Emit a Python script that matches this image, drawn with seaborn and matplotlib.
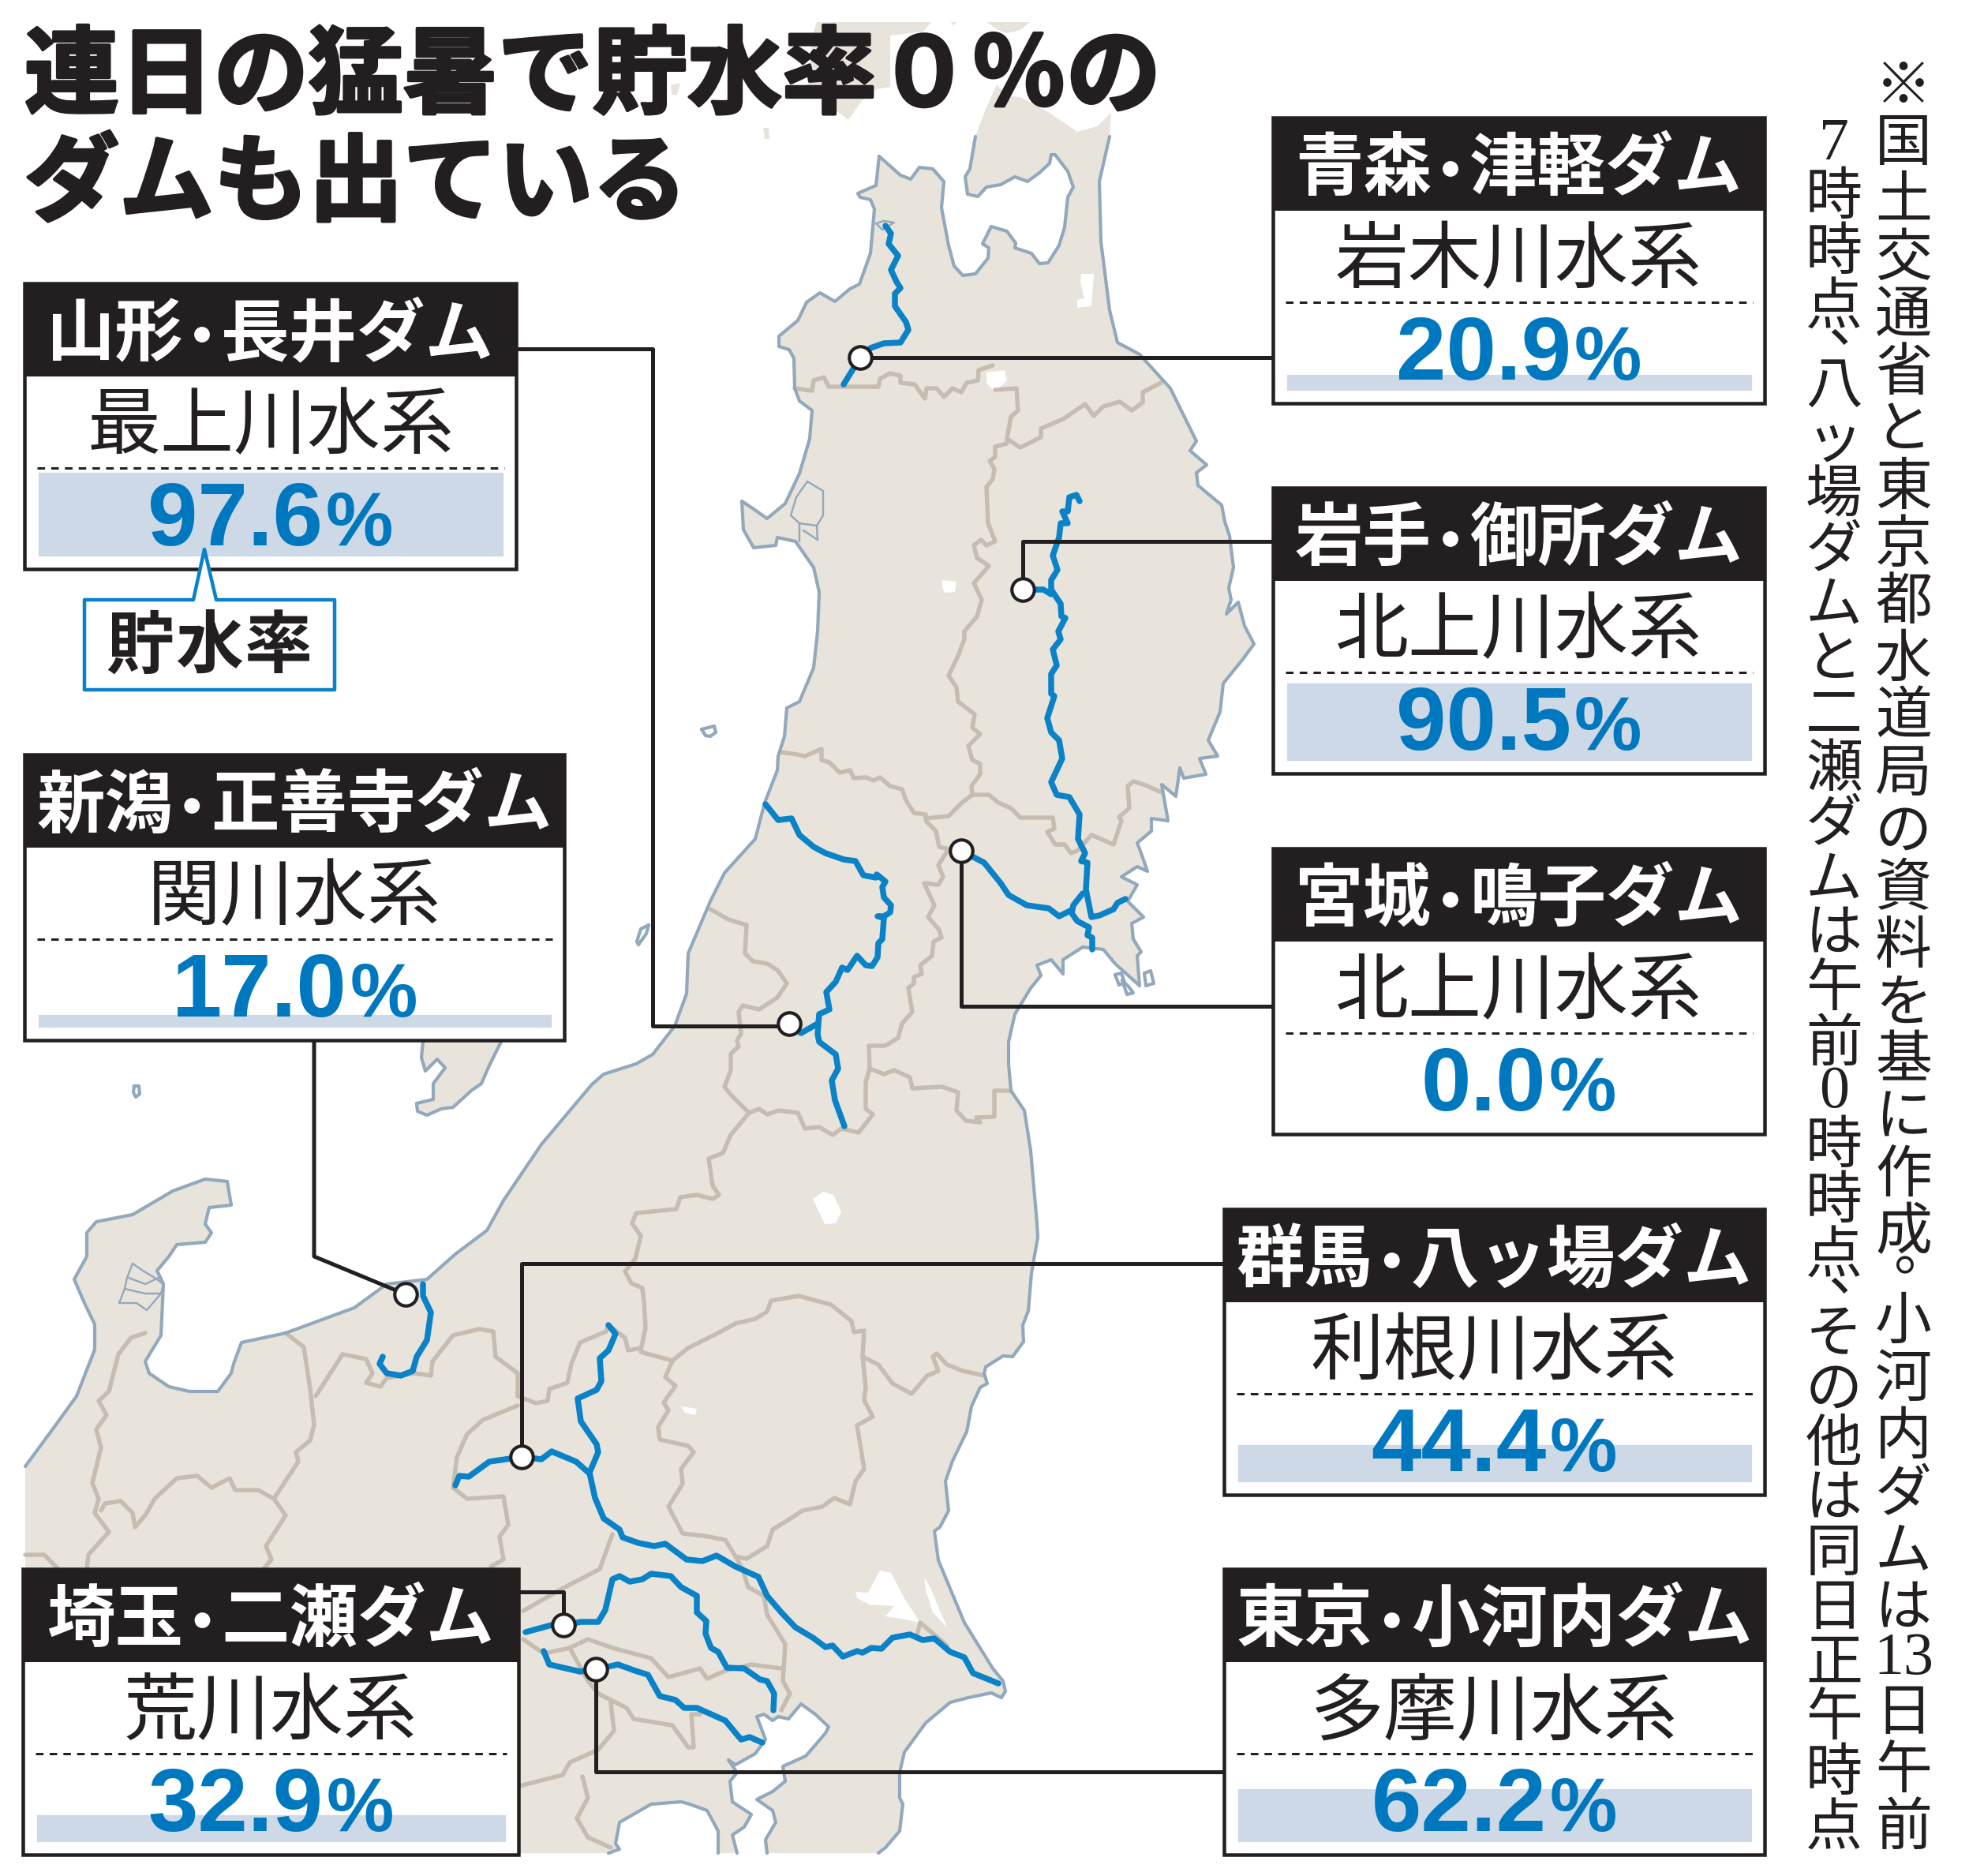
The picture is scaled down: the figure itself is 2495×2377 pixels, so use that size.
import numpy as np
import pandas as pd
import seaborn as sns
import matplotlib.pyplot as plt
import matplotlib.patheffects as pe
from matplotlib.patches import Rectangle, Polygon

sns.set_theme(style="white")
JP = ["Noto Sans CJK JP", "DejaVu Sans"]
plt.rcParams["font.family"] = JP

W, H = 2495, 2377
DPI = 200
DARK = "#231f20"
BLUE = "#0a82c8"
NUM_BLUE = "#0078bf"
LAND = "#e8e4dc"
COAST = "#92a9bd"
BORDER = "#c6bdb0"
FILL = "#cdd9e6"

# dam data

dams = ["青森・津軽ダム", "岩手・御所ダム", "宮城・鳴子ダム", "山形・長井ダム",
        "新潟・正善寺ダム", "群馬・八ッ場ダム", "埼玉・二瀬ダム", "東京・小河内ダム"]
rivers = ["岩木川水系", "北上川水系", "北上川水系", "最上川水系",
          "関川水系", "利根川水系", "荒川水系", "多摩川水系"]
storage = [20.9, 90.5, 0.0, 97.6, 17.0, 44.4, 32.9, 62.2]
card_x0 = [1613, 1613, 1613, 31, 31, 1551, 29, 1551]
card_x1 = [2236, 2236, 2236, 654, 715, 2236, 657, 2236]
card_y0 = [149, 618, 1075, 359, 956, 1532, 1988, 1988]
dam_x = [1090, 1296, 1218, 1000, 514, 661, 714, 755]
dam_y = [453, 747, 1078, 1297, 1640, 1846, 2059, 2115]

title_lines = ["連日の猛暑で貯水率０％の", "ダムも出ている"]
note_col1 = ["※", "国", "土", "交", "通", "省", "と", "東", "京", "都", "水", "道", "局", "の", "資", "料",
             "を", "基", "に", "作", "成", "。", "小", "河", "内", "ダ", "ム", "は", "13", "日", "午", "前"]
note_col2 = ["7", "時", "時", "点", "、", "八", "ッ", "場", "ダ", "ム", "と", "二", "瀬", "ダ", "ム", "は", "午",
             "前", "0", "時", "時", "点", "、", "そ", "の", "他", "は", "同", "日", "正", "午", "時", "点"]

# map, image pixels

east_coast = [(1406, 173), (1393, 230), (1395, 306), (1406, 393), (1416, 434), (1444, 449), (1483, 492), (1516, 559),
              (1508, 571), (1529, 589), (1516, 599), (1518, 615), (1548, 640), (1552, 661), (1558, 679), (1563, 719),
              (1557, 745), (1560, 760), (1554, 778), (1569, 763), (1577, 793), (1589, 816), (1575, 835), (1550, 866),
              (1546, 902), (1531, 938), (1543, 958), (1520, 961), (1528, 981), (1500, 986), (1495, 973), (1490, 1009),
              (1472, 994), (1480, 1040), (1459, 1037), (1459, 1053), (1441, 1068), (1446, 1081), (1454, 1104),
              (1441, 1098), (1421, 1111), (1441, 1121), (1429, 1142), (1449, 1162), (1434, 1170), (1436, 1190),
              (1446, 1206), (1441, 1211), (1444, 1249), (1413, 1221), (1398, 1203), (1372, 1200), (1347, 1216),
              (1347, 1234), (1332, 1216), (1314, 1223), (1319, 1236), (1306, 1252), (1286, 1285), (1278, 1320),
              (1278, 1348), (1281, 1382), (1298, 1407), (1306, 1458), (1314, 1550), (1315, 1568), (1307, 1613),
              (1303, 1661), (1296, 1679), (1297, 1700), (1283, 1719), (1271, 1718), (1249, 1732), (1247, 1740),
              (1251, 1753), (1242, 1758), (1231, 1782), (1225, 1814), (1207, 1851), (1198, 1877), (1202, 1914),
              (1191, 1935), (1184, 1940), (1189, 1977), (1222, 2056), (1258, 2114), (1271, 2130), (1274, 2143),
              (1269, 2151), (1256, 2145), (1227, 2151), (1204, 2157), (1173, 2183), (1146, 2220), (1140, 2246),
              (1140, 2278), (1144, 2286), (1140, 2320), (1122, 2341), (1113, 2348)]
bay_coast = [(972, 2348), (970, 2331), (983, 2309), (979, 2294), (959, 2280), (979, 2270), (995, 2257), (992, 2238),
             (1021, 2225), (1046, 2196), (1050, 2188), (1033, 2172), (1015, 2159), (999, 2178), (986, 2175), (979, 2180),
             (968, 2172), (959, 2175), (970, 2204), (957, 2222), (932, 2236), (923, 2230), (934, 2246), (925, 2257),
             (928, 2283), (952, 2299), (943, 2315), (928, 2325), (934, 2348)]
sagami_coast = [(910, 2348), (910, 2320), (896, 2294), (874, 2286), (863, 2283), (825, 2286), (785, 2309), (780, 2336),
                (785, 2343), (771, 2348)]
west_coast = [(1114, 198), (1110, 235), (1087, 245), (1090, 250), (1103, 253), (1108, 265), (1103, 321), (1089, 360),
              (1077, 366), (1058, 382), (1039, 371), (1022, 383), (1011, 406), (987, 426), (987, 439), (1000, 443),
              (1006, 454), (1007, 492), (1013, 508), (1029, 520), (1026, 556), (1013, 600), (995, 638), (972, 657),
              (955, 645), (940, 635), (942, 671), (955, 694), (983, 691), (985, 681), (1008, 686), (1031, 719),
              (1038, 750), (1036, 800), (1031, 846), (1013, 889), (997, 897), (994, 933), (986, 958), (985, 976),
              (969, 1017), (957, 1063), (918, 1106), (900, 1142), (872, 1208), (870, 1259), (855, 1300), (827, 1336),
              (806, 1348), (765, 1361), (750, 1374), (686, 1450), (638, 1521), (617, 1559), (577, 1589), (541, 1621),
              (490, 1627), (449, 1657), (362, 1689), (306, 1701), (296, 1728), (293, 1740), (276, 1763), (240, 1763),
              (214, 1757), (189, 1740), (184, 1725), (204, 1692), (207, 1627), (199, 1610), (214, 1592), (224, 1577),
              (260, 1574), (268, 1562), (260, 1551), (265, 1530), (293, 1527), (288, 1497), (260, 1494), (219, 1509),
              (168, 1539), (122, 1548), (110, 1562), (110, 1592), (94, 1621), (107, 1651), (120, 1678), (120, 1710),
              (97, 1769), (71, 1805), (32, 1858)]
mutsu_coast = [(1114, 198), (1141, 222), (1154, 227), (1165, 212), (1182, 214), (1196, 230), (1193, 263), (1202, 311),
               (1209, 337), (1220, 349), (1236, 347), (1252, 327), (1253, 314), (1245, 309), (1256, 287), (1276, 293),
               (1287, 308), (1286, 314), (1307, 321), (1317, 334), (1328, 333), (1342, 311), (1349, 288), (1353, 250),
               (1360, 237), (1353, 217), (1337, 196), (1332, 196), (1330, 207), (1317, 219), (1302, 230), (1286, 224),
               (1268, 234), (1250, 237), (1239, 249), (1226, 246), (1223, 224), (1229, 214), (1236, 173)]
shimokita_top = [(1247, 143), (1263, 107), (1277, 122), (1293, 123), (1330, 143), (1365, 167), (1390, 160), (1408, 143)]
hokkaido_a = [(1035, 28), (1180, 28), (1170, 40), (1128, 45), (1128, 110), (1110, 113), (1092, 128), (1075, 152), (1063, 143),
              (1023, 110), (1030, 43)]
hokkaido_b = [(1250, 28), (1305, 28), (1293, 38), (1275, 42), (1265, 38)]
hokkaido_c = [(1205, 28), (1212, 28), (1208, 33)]
islet_a = [(967, 162), (974, 162), (975, 176), (969, 176)]
islet_b = [(850, 108), (862, 105), (858, 120), (851, 120)]
sado = [(536, 1300), (536, 1320), (534, 1340), (539, 1357), (554, 1342), (564, 1353), (549, 1373), (549, 1393), (528, 1398),
        (529, 1408), (541, 1413), (559, 1405), (574, 1403), (597, 1382), (610, 1373), (620, 1350), (635, 1320), (640, 1300)]
awashima = [(822, 1172), (819, 1183), (809, 1197), (807, 1193), (812, 1177), (822, 1172)]
tobishima = [(889, 924), (905, 920), (907, 928), (900, 933), (894, 932), (889, 924)]
small_isle = [(170, 1376), (176, 1376), (177, 1386), (172, 1390), (169, 1384), (170, 1376)]
matsu_a = [(1413, 1235), (1421, 1233), (1425, 1245), (1418, 1248), (1413, 1235)]
matsu_b = [(1422, 1242), (1430, 1250), (1436, 1258), (1428, 1260), (1422, 1242)]
matsu_c = [(1450, 1233), (1458, 1230), (1462, 1246), (1452, 1249), (1450, 1233)]
hachirogata = [(1023, 610), (1043, 622), (1043, 653), (1035, 666), (1013, 663), (1002, 653), (1009, 630), (1023, 610)]
hachi_a = [(1013, 663), (1013, 686)]
hachi_b = [(1035, 666), (1036, 684), (1018, 672)]
jusan = [(1110, 283), (1120, 280), (1133, 282), (1118, 291), (1110, 283)]
nanao = [(168, 1601), (181, 1610), (196, 1619), (207, 1627), (204, 1639), (186, 1660), (173, 1651), (151, 1651),
         (158, 1633), (161, 1619), (168, 1601)]
nanao_a = [(158, 1633), (184, 1639), (204, 1639)]
nanao_b = [(163, 1619), (184, 1627), (201, 1619)]

lake_towada = [(1250, 472), (1273, 469), (1276, 482), (1261, 497), (1250, 485)]
lake_ogawara = [(1370, 347), (1386, 347), (1383, 388), (1365, 390), (1365, 380), (1374, 378), (1369, 357)]
lake_tazawa = [(1194, 735), (1212, 737), (1210, 750), (1197, 751), (1194, 745)]
lake_inawashiro = [(1030, 1519), (1043, 1510), (1056, 1514), (1066, 1535), (1059, 1550), (1045, 1551), (1036, 1532)]
lake_chuzenji = [(863, 1782), (883, 1785), (881, 1793), (868, 1790)]
lake_kasumi = [(1084, 2017), (1100, 2018), (1115, 1990), (1129, 1993), (1146, 2025), (1166, 2056), (1142, 2051),
               (1122, 2048), (1133, 2035), (1102, 2033), (1086, 2025)]
lake_kita = [(1171, 1998), (1180, 2014), (1200, 2062), (1182, 2043), (1173, 2014)]

aomori_akita = [(1007, 492), (1029, 495), (1031, 482), (1044, 478), (1050, 490), (1113, 490), (1115, 480), (1128, 473),
                (1141, 476), (1141, 485), (1159, 487), (1172, 505), (1174, 492), (1187, 492), (1196, 503), (1207, 492),
                (1218, 497), (1225, 485), (1239, 482), (1240, 469), (1258, 463)]
aomori_akita2 = [(1261, 494), (1288, 492), (1290, 520), (1281, 528), (1276, 556)]
aomori_iwate = [(1276, 556), (1293, 567), (1319, 554), (1319, 543), (1347, 531), (1375, 512), (1386, 527), (1398, 515),
                (1419, 509), (1434, 520), (1448, 510), (1448, 497), (1471, 485)]
akita_iwate = [(1276, 556), (1276, 562), (1261, 566), (1261, 579), (1254, 584), (1260, 594), (1258, 607), (1250, 617),
               (1252, 663), (1261, 686), (1250, 691), (1243, 684), (1234, 691), (1238, 707), (1253, 717), (1234, 739),
               (1244, 760), (1238, 781), (1222, 800), (1222, 810), (1214, 831), (1202, 856), (1212, 871), (1214, 889),
               (1235, 905), (1232, 922), (1242, 930), (1227, 945), (1232, 963), (1242, 968), (1242, 981), (1231, 996),
               (1232, 1007)]
iwate_miyagi = [(1232, 1007), (1253, 1007), (1265, 1017), (1281, 1024), (1293, 1036), (1334, 1036), (1336, 1050),
                (1327, 1054), (1334, 1065), (1337, 1070), (1349, 1070), (1357, 1081), (1365, 1078), (1383, 1058),
                (1411, 1070), (1421, 1040), (1418, 1035), (1431, 1024), (1429, 996), (1436, 990), (1449, 994), (1472, 1004)]
akita_yamagata = [(990, 953), (1010, 956), (1020, 958), (1041, 949), (1041, 963), (1051, 966), (1064, 979), (1077, 976),
                  (1082, 986), (1097, 985), (1107, 989), (1115, 985), (1128, 996), (1143, 1000), (1148, 1014),
                  (1158, 1030), (1173, 1032), (1173, 1037), (1202, 1034), (1219, 1017), (1232, 1007)]
yamagata_miyagi = [(1173, 1040), (1186, 1053), (1190, 1073), (1202, 1076), (1189, 1096), (1195, 1111), (1189, 1121),
                   (1171, 1119), (1184, 1147), (1176, 1162), (1190, 1178), (1193, 1188), (1183, 1193), (1181, 1211),
                   (1166, 1223), (1168, 1234), (1158, 1238), (1158, 1246), (1151, 1252), (1156, 1282), (1143, 1297),
                   (1138, 1315), (1122, 1325), (1101, 1325), (1102, 1354)]
miyagi_fukushima = [(1102, 1354), (1120, 1361), (1133, 1356), (1153, 1365), (1156, 1379), (1194, 1377), (1214, 1384),
                    (1212, 1407), (1224, 1420), (1242, 1422), (1237, 1416), (1260, 1415), (1260, 1382), (1281, 1382)]
yamagata_fukushima = [(1102, 1354), (1097, 1371), (1097, 1405), (1106, 1412), (1088, 1435), (1066, 1430), (1055, 1438),
                      (1038, 1428), (1020, 1430), (1011, 1410), (987, 1407), (972, 1412), (962, 1405), (949, 1410)]
yamagata_niigata = [(900, 1152), (923, 1165), (946, 1172), (944, 1208), (954, 1218), (972, 1221), (985, 1229), (997, 1246),
                    (985, 1264), (962, 1279), (941, 1274), (936, 1282), (939, 1310), (934, 1318), (936, 1326), (926, 1335),
                    (926, 1356), (918, 1377), (926, 1387), (936, 1397), (949, 1410)]
fukushima_niigata = [(949, 1410), (926, 1438), (916, 1461), (898, 1468), (903, 1502), (911, 1514), (903, 1519), (883, 1514),
                     (862, 1517), (857, 1532), (827, 1535), (806, 1537), (801, 1550), (812, 1566), (805, 1595), (792, 1611),
                     (800, 1626), (814, 1632), (816, 1650), (818, 1682), (812, 1711)]
fukushima_tochigi = [(812, 1713), (852, 1724)]
tochigi_loop = [(852, 1724), (872, 1708), (908, 1690), (932, 1677), (957, 1671), (972, 1662), (977, 1648), (1012, 1642),
                (1053, 1653), (1079, 1674), (1082, 1688), (1095, 1686), (1093, 1719), (1097, 1758), (1095, 1774),
                (1106, 1795), (1086, 1806), (1095, 1861), (1084, 1877), (1077, 1906), (1057, 1898), (1042, 1909),
                (1017, 1914), (997, 1927), (979, 1938), (972, 1959), (946, 1975), (932, 1972), (919, 1951), (892, 1946),
                (865, 1943), (847, 1909), (865, 1880), (863, 1861), (879, 1840), (872, 1832), (836, 1824), (834, 1808),
                (847, 1787), (841, 1777), (856, 1756), (843, 1745), (852, 1724)]
fukushima_ibaraki = [(1093, 1719), (1113, 1729), (1131, 1753), (1155, 1766), (1175, 1743), (1189, 1737), (1182, 1719),
                     (1187, 1715), (1200, 1729), (1220, 1737), (1247, 1743)]
ibaraki_chiba = [(1162, 2072), (1166, 2056), (1200, 2085)]
ibaraki_south = [(932, 1972), (941, 1988), (948, 2011), (968, 2022), (972, 2046), (995, 2083), (992, 2130), (1001, 2146),
                 (990, 2167)]
gunma_saitama = [(776, 1944), (760, 1988), (714, 2012), (663, 2041)]
saitama_tokyo = [(663, 2077), (689, 2095), (722, 2088), (745, 2077), (776, 2088), (825, 2101), (847, 2125), (887, 2114),
                 (896, 2127), (919, 2117), (952, 2109), (990, 2114)]
tokyo_kanagawa = [(722, 2088), (745, 2130), (758, 2146), (794, 2164), (803, 2178), (852, 2186), (872, 2214), (879, 2214),
                  (876, 2172), (887, 2172)]
yamanashi_kanagawa = [(774, 2157), (778, 2193), (758, 2217), (722, 2233), (713, 2249), (658, 2263)]
kanagawa_shizuoka = [(738, 2251), (745, 2278), (731, 2304), (745, 2328), (774, 2341)]
toyama_nagano = [(362, 1689), (385, 1707), (393, 1760), (398, 1805), (393, 1825), (375, 1840), (378, 1852), (347, 1899),
                 (362, 1920), (337, 1959), (344, 1976), (334, 1988)]
ishikawa_toyama = [(184, 1689), (166, 1695), (150, 1716), (138, 1763), (125, 1775), (135, 1793), (122, 1811), (128, 1834),
                   (117, 1879), (125, 1899), (120, 1917), (138, 1941), (112, 1970), (110, 1988)]
toyama_gifu = [(128, 1914), (133, 1905), (153, 1902), (168, 1917), (171, 1935), (184, 1920), (196, 1899), (224, 1873),
               (250, 1870), (268, 1885), (291, 1873), (298, 1888), (327, 1888), (347, 1899)]
fukui_gifu = [(32, 1970), (56, 1970), (74, 1988)]
niigata_nagano = [(400, 1769), (434, 1716), (464, 1722), (472, 1740), (464, 1752), (482, 1757), (490, 1746), (526, 1740),
                  (546, 1743), (548, 1725), (574, 1692), (607, 1684), (625, 1687), (628, 1719), (656, 1740), (656, 1769),
                  (679, 1778), (694, 1775), (696, 1760), (719, 1752), (724, 1728), (735, 1701), (768, 1687), (771, 1679),
                  (792, 1695), (796, 1711), (812, 1708)]
gunma_nagano = [(656, 1781), (612, 1799), (592, 1817), (579, 1846), (574, 1885), (592, 1899), (638, 1896), (644, 1932),
                (633, 1947), (638, 1976), (622, 1985)]
borders = [aomori_akita, aomori_akita2, aomori_iwate, akita_iwate, iwate_miyagi, akita_yamagata, yamagata_miyagi,
           miyagi_fukushima, yamagata_fukushima, yamagata_niigata, fukushima_niigata, fukushima_tochigi, tochigi_loop,
           fukushima_ibaraki, ibaraki_chiba, ibaraki_south, gunma_saitama, saitama_tokyo, tokyo_kanagawa,
           yamanashi_kanagawa, kanagawa_shizuoka, toyama_nagano, ishikawa_toyama, toyama_gifu, fukui_gifu,
           niigata_nagano, gunma_nagano]

iwaki = [(1122, 286), (1129, 296), (1126, 309), (1138, 324), (1129, 342), (1136, 357), (1141, 365), (1134, 372), (1134, 388),
         (1148, 408), (1151, 418), (1141, 434), (1120, 435), (1103, 441), (1090, 453), (1069, 487)]
kitakami = [(1368, 635), (1364, 627), (1355, 630), (1353, 648), (1346, 648), (1353, 663), (1344, 663), (1342, 681),
            (1334, 704), (1340, 722), (1332, 735), (1332, 747), (1344, 765), (1345, 781), (1350, 783), (1341, 800),
            (1344, 810), (1334, 823), (1339, 843), (1332, 854), (1332, 879), (1336, 882), (1327, 910), (1332, 928),
            (1342, 938), (1346, 961), (1332, 991), (1339, 1007), (1355, 1010), (1368, 1032), (1366, 1063), (1375, 1081),
            (1370, 1091), (1378, 1093), (1376, 1127), (1383, 1162), (1393, 1160), (1411, 1152), (1416, 1144), (1426, 1139)]
kitakami_dam = [(1296, 747), (1322, 747), (1332, 753)]
kitakami_old = [(1372, 1132), (1360, 1147), (1358, 1157), (1365, 1167), (1380, 1175), (1378, 1185), (1384, 1188), (1384, 1203)]
eai = [(1218, 1078), (1247, 1093), (1268, 1119), (1278, 1134), (1301, 1147), (1329, 1151), (1342, 1161), (1358, 1153)]
mogami = [(970, 1019), (986, 1039), (1003, 1037), (1013, 1058), (1031, 1073), (1046, 1081), (1069, 1089), (1084, 1091),
          (1094, 1109), (1110, 1112), (1111, 1108), (1122, 1117), (1118, 1124), (1120, 1137), (1129, 1147), (1128, 1156),
          (1120, 1161), (1112, 1161), (1120, 1163), (1118, 1190), (1113, 1195), (1112, 1213), (1105, 1224), (1097, 1223),
          (1086, 1211), (1074, 1229), (1067, 1226), (1059, 1244), (1047, 1257), (1051, 1279), (1038, 1285), (1036, 1310),
          (1038, 1320), (1059, 1336), (1062, 1354), (1054, 1369), (1058, 1394), (1070, 1427)]
mogami_dam = [(1000, 1297), (1015, 1309), (1036, 1297)]
seki = [(536, 1627), (536, 1642), (546, 1663), (541, 1698), (528, 1719), (523, 1737), (508, 1743), (490, 1740), (481, 1728),
        (485, 1719)]
tone_agatsuma = [(577, 1882), (582, 1870), (594, 1871), (620, 1852), (661, 1846), (686, 1849), (699, 1839), (730, 1852),
                 (747, 1867)]
tone_upper = [(771, 1679), (780, 1690), (771, 1711), (760, 1721), (762, 1750), (756, 1761), (732, 1772), (736, 1801),
              (756, 1830), (758, 1840), (747, 1866)]
tone = [(747, 1866), (754, 1898), (765, 1924), (785, 1938), (789, 1948), (809, 1955), (829, 1959), (843, 1956), (870, 1976),
        (890, 1978), (908, 1971), (932, 1985), (961, 1998), (972, 2022), (990, 2043), (1008, 2062), (1030, 2075),
        (1046, 2087), (1055, 2085), (1068, 2099), (1086, 2092), (1093, 2094), (1104, 2088), (1117, 2089), (1131, 2075),
        (1153, 2071), (1169, 2078), (1184, 2076), (1204, 2093), (1222, 2100), (1233, 2120), (1265, 2133)]
ara = [(666, 2068), (699, 2059), (715, 2059), (736, 2055), (758, 2055), (767, 2040), (776, 2001), (785, 1997), (798, 2004),
       (814, 2001), (825, 1994), (850, 1997), (863, 2011), (883, 2022), (883, 2043), (895, 2054), (894, 2070), (901, 2088),
       (910, 2093), (921, 2113), (943, 2114), (963, 2128), (972, 2130), (981, 2146), (980, 2167)]
tama = [(689, 2092), (696, 2109), (735, 2118), (756, 2115), (783, 2109), (805, 2117), (821, 2122), (836, 2149), (856, 2154),
        (867, 2164), (883, 2164), (919, 2180), (939, 2204), (950, 2201), (966, 2208)]
river_lines = [iwaki, kitakami, kitakami_dam, kitakami_old, eai, mogami, mogami_dam, seki, tone_agatsuma, tone_upper, tone, ara, tama]

leader_aomori = [(1090, 453), (1613, 453)]
leader_iwate = [(1296, 747), (1296, 686), (1613, 686)]
leader_miyagi = [(1218, 1078), (1218, 1275), (1613, 1275)]
leader_yamagata = [(654, 442), (827, 442), (827, 1300), (1000, 1300)]
leader_niigata = [(398, 1318), (398, 1592), (514, 1640)]
leader_gunma = [(661, 1846), (661, 1601), (1551, 1601)]
leader_saitama = [(657, 2017), (714, 2017), (714, 2059)]
leader_tokyo = [(755, 2115), (755, 2245), (1551, 2245)]
leaders = [leader_aomori, leader_iwate, leader_miyagi, leader_yamagata, leader_niigata, leader_gunma, leader_saitama, leader_tokyo]


def pt(px):
    return px * 72 / DPI


def trace(points, color, width, z):
    xs = [p[0] for p in points]
    ys = [p[1] for p in points]
    sns.lineplot(x=xs, y=ys, sort=False, estimator=None, color=color, linewidth=pt(width),
                 solid_joinstyle="round", solid_capstyle="round", zorder=z, legend=False, ax=ax)


fig = plt.figure(figsize=(W / DPI, H / DPI), dpi=DPI, facecolor="white")
ax = fig.add_axes([0, 0, 1, 1], zorder=0)

# land

honshu = east_coast + bay_coast + sagami_coast + [(32, 2348)] + west_coast[::-1] + mutsu_coast + shimokita_top
for shape in [honshu, hokkaido_a, hokkaido_b, hokkaido_c, sado, islet_a, islet_b]:
    ax.add_patch(Polygon(shape, closed=True, facecolor=LAND, edgecolor="none", zorder=1))
for lake in [lake_towada, lake_ogawara, lake_tazawa, lake_inawashiro, lake_chuzenji, lake_kasumi, lake_kita]:
    ax.add_patch(Polygon(lake, closed=True, facecolor="white", edgecolor="none", zorder=2))

for line in borders:
    trace(line, BORDER, 5.5, 3)
for line in [east_coast, bay_coast, sagami_coast, west_coast, mutsu_coast, sado[1:-1], awashima, tobishima, small_isle,
             matsu_a, matsu_b, matsu_c]:
    trace(line, COAST, 4.2, 4)
for line in [hachirogata, hachi_a, hachi_b, jusan, nanao, nanao_a, nanao_b]:
    trace(line, COAST, 2.4, 4)
for line in river_lines:
    trace(line, BLUE, 7.5, 5)
for line in leaders:
    trace(line, DARK, 5, 6)

sns.scatterplot(x=dam_x, y=dam_y, s=105, color="white", edgecolor=DARK, linewidth=1.5, zorder=7, legend=False, ax=ax)

# cards, storage bars drawn on small axes of their own

for x0, x1, y0 in zip(card_x0, card_x1, card_y0):
    ax.add_patch(Rectangle((x0, y0), x1 - x0, 362, facecolor="white", edgecolor="none", zorder=8))
    ax.add_patch(Rectangle((x0, y0), x1 - x0, 118, facecolor=DARK, edgecolor="none", zorder=9))

ax.set_xlim(0, W)
ax.set_ylim(H, 0)
ax.set_axis_off()

for name, val, x0, x1, y0 in zip(dams, storage, card_x0, card_x1, card_y0):
    bx = fig.add_axes([(x0 + 16) / W, 1 - (y0 + 347) / H, (x1 - x0 - 31) / W, 112 / H], zorder=1)
    sns.barplot(x=[name], y=[val], color=FILL, width=1, saturation=1, ax=bx)
    bx.set_xlim(-0.5, 0.5)
    bx.set_ylim(0, 100)
    bx.patch.set_alpha(0)
    bx.set_axis_off()

# everything that sits on top of the bars

top = fig.add_axes([0, 0, 1, 1], zorder=2)
top.set_xlim(0, W)
top.set_ylim(H, 0)
top.patch.set_alpha(0)
top.set_axis_off()
rend = fig.canvas.get_renderer()


def width_of(t):
    return t.get_window_extent(rend).width


def header(label, cx, cy):
    left, right = label.split("・")
    kw = dict(color="white", fontsize=pt(86.5), fontweight="bold", va="center", ha="left", family=JP)
    t1 = top.text(0, cy, left, **kw)
    t2 = top.text(0, cy, right, **kw)
    gap = 48
    w1, w2 = width_of(t1), width_of(t2)
    start = cx - (w1 + gap + w2) / 2
    t1.set_x(start)
    t2.set_x(start + w1 + gap)
    top.add_patch(plt.Circle((start + w1 + gap / 2, cy - 1), 8.5, color="white", zorder=5))


def percent(val, cx, base):
    t1 = top.text(0, base, f"{val:.1f}", color=NUM_BLUE, fontsize=pt(114), fontweight="bold",
                  family="Liberation Sans", ha="left", va="baseline", zorder=6)
    t2 = top.text(0, base, "%", color=NUM_BLUE, fontsize=pt(96), fontweight="bold",
                  family="Liberation Sans", ha="left", va="baseline", zorder=6)
    w1, w2 = width_of(t1), width_of(t2)
    start = cx - (w1 + 4 + w2) / 2
    t1.set_x(start)
    t2.set_x(start + w1 + 4)


for label, river, val, x0, x1, y0 in zip(dams, rivers, storage, card_x0, card_x1, card_y0):
    cx = (x0 + x1) / 2
    top.add_patch(Rectangle((x0, y0), x1 - x0, 362, facecolor="none", edgecolor=DARK, linewidth=pt(4.5), zorder=3))
    header(label, cx, y0 + 66)
    top.text(cx, y0 + 182, river, color=DARK, fontsize=pt(93), ha="center", va="center", family=JP)
    top.plot([x0 + 16, x1 - 15], [y0 + 234, y0 + 234], color=DARK, linewidth=pt(3), linestyle=(0, (3.2, 2.6)), zorder=4)
    percent(val, cx, y0 + 332)

# 貯水率 callout

callout = [(107, 760), (245, 760), (259, 696), (274, 760), (424, 760), (424, 874), (107, 874)]
top.add_patch(Polygon(callout, closed=True, facecolor="white", edgecolor=BLUE, linewidth=pt(4.5), joinstyle="round", zorder=7))
for ch, cx in zip("貯水率", [177, 265, 353]):
    top.text(cx, 820, ch, color=DARK, fontsize=pt(86), fontweight="bold", ha="center", va="center", family=JP, zorder=8)

# title

for line, cy in zip(title_lines, [99, 235]):
    top.text(31, cy, line, color=DARK, fontsize=pt(120), fontweight="bold", ha="left", va="center", family=JP, zorder=10,
             path_effects=[pe.Stroke(linewidth=pt(4), foreground=DARK), pe.Normal()])

# note, set vertically one glyph at a time


def column(chars, x, y_start, pitch):
    y = y_start
    for ch in chars:
        fam = ["Liberation Serif"] if ch[0].isdigit() else JP
        if ch == "、":
            top.text(x + 28, y - 6, ch, color=DARK, fontsize=pt(72), ha="center", va="center", family=fam)
            y += 30
        elif ch == "。":
            top.text(x + 24, y - 4, ch, color=DARK, fontsize=pt(72), ha="center", va="center", family=fam)
            y += 41
        elif ch[0].isdigit():
            top.text(x, y + 33, ch, color=DARK, fontsize=pt(76), ha="center", va="center", family=fam)
            y += 60
        else:
            top.text(x, y + pitch / 2 + 6, ch, color=DARK, fontsize=pt(72), ha="center", va="center", family=fam)
            y += pitch


column(note_col1, 2412, 68, 72.6)
column(note_col2, 2324, 150, 69.5)

fig.savefig("out.png", dpi=DPI, facecolor="white")
plt.close()
